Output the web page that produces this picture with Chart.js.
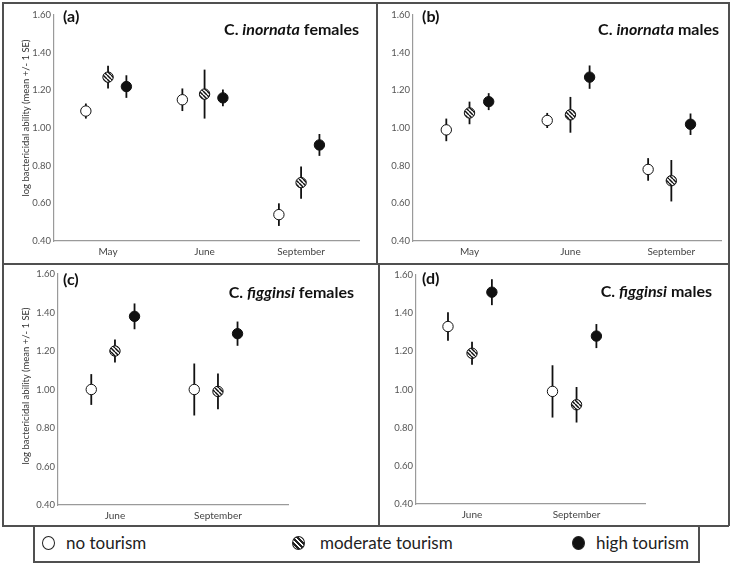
<!DOCTYPE html>
<html>
<head>
<meta charset="utf-8">
<script src="https://cdn.jsdelivr.net/npm/chart.js@4.4.1/dist/chart.umd.min.js"></script>
<style>
  body { margin: 0; background: #fff; font-family: Lato, "Open Sans", sans-serif; }
  #page { position: relative; width: 733px; height: 564px; overflow: hidden; }
  .line { position: absolute; background: #505050; }
  canvas { position: absolute; }
  .tag { position: absolute; font-weight: bold; font-size: 16px; line-height: 16px; color: #111; }
  .title { position: absolute; font-weight: bold; font-size: 16px; line-height: 16px; white-space: nowrap; color: #111; }
  .ytitle { position: absolute; font-size: 9.5px; color: #333; white-space: nowrap;
            transform: translate(-50%, -50%) rotate(-90deg); }
  .leg { position: absolute; font-size: 17px; line-height: 18px; color: #222; white-space: nowrap; }
  .ico { position: absolute; width: 13px; height: 14px; border: 1px solid #222; border-radius: 50%; box-sizing: border-box; }
</style>
</head>
<body>
<div id="page">
  <!-- frame -->
  <div class="line" style="left:2px;top:2px;width:727px;height:1.5px"></div>
  <div class="line" style="left:2px;top:2px;width:1.5px;height:524px"></div>
  <div class="line" style="left:728px;top:2px;width:1.5px;height:524px"></div>
  <div class="line" style="left:2px;top:263px;width:727px;height:1.5px"></div>
  <div class="line" style="left:2px;top:525px;width:727px;height:1.5px"></div>
  <div class="line" style="left:376px;top:2px;width:1.5px;height:262px"></div>
  <div class="line" style="left:378px;top:263px;width:1.5px;height:263px"></div>
  <!-- legend box -->
  <div class="line" style="left:33px;top:525px;width:1.5px;height:37px"></div>
  <div class="line" style="left:698px;top:525px;width:1.5px;height:37px"></div>
  <div class="line" style="left:33px;top:561px;width:667px;height:1.5px"></div>

  <canvas id="pa" width="373" height="260" style="left:3px;top:3px"></canvas>
  <canvas id="pb" width="351" height="260" style="left:377px;top:3px"></canvas>
  <canvas id="pc" width="375" height="261" style="left:3px;top:264px"></canvas>
  <canvas id="pd" width="349" height="261" style="left:379px;top:264px"></canvas>

  <div class="tag" style="left:63px;top:8px">(a)</div>
  <div class="tag" style="left:422px;top:8px">(b)</div>
  <div class="tag" style="left:63px;top:271px">(c)</div>
  <div class="tag" style="left:422px;top:270px">(d)</div>

  <div class="title" style="right:374px;top:21px">C. <i>inornata</i> females</div>
  <div class="title" style="right:14px;top:21px">C. <i>inornata</i> males</div>
  <div class="title" style="right:379px;top:284px">C. <i>figginsi</i> females</div>
  <div class="title" style="right:21px;top:283px">C. <i>figginsi</i> males</div>

  <div class="ytitle" style="left:25px;top:118px">log bactericidal ability (mean +/- 1 SE)</div>
  <div class="ytitle" style="left:25px;top:386px">log bactericidal ability (mean +/- 1 SE)</div>

  <div class="ico" style="left:42px;top:536px;background:#fff"></div>
  <div class="leg" style="left:66px;top:534px">no tourism</div>
  <div class="ico" style="left:292px;top:536px;background:repeating-linear-gradient(45deg,#222 0 1.7px,#fff 1.7px 3.5px)"></div>
  <div class="leg" style="left:320px;top:534px">moderate tourism</div>
  <div class="ico" style="left:572px;top:536px;background:#111"></div>
  <div class="leg" style="left:596px;top:534px">high tourism</div>
</div>
<script>
const topMonths = ['May', 'June', 'September'];
const bottomMonths = ['June', 'September'];
const yTicks = [0.4, 0.6, 0.8, 1.0, 1.2, 1.4, 1.6];

// (a) C. inornata females
const aNone = [1.09, 1.15, 0.54];
const aNoneSE = [0.04, 0.06, 0.06];
const aMod = [1.27, 1.18, 0.71];
const aModSE = [0.06, 0.13, 0.085];
const aHigh = [1.22, 1.16, 0.91];
const aHighSE = [0.06, 0.045, 0.058];

// (b) C. inornata males
const bNone = [0.99, 1.04, 0.78];
const bNoneSE = [0.06, 0.04, 0.06];
const bMod = [1.08, 1.07, 0.72];
const bModSE = [0.06, 0.095, 0.11];
const bHigh = [1.14, 1.27, 1.02];
const bHighSE = [0.045, 0.062, 0.057];

// (c) C. figginsi females
const cNone = [1.00, 1.00];
const cNoneSE = [0.08, 0.135];
const cMod = [1.20, 0.99];
const cModSE = [0.06, 0.093];
const cHigh = [1.38, 1.29];
const cHighSE = [0.067, 0.063];

// (d) C. figginsi males
const dNone = [1.33, 0.99];
const dNoneSE = [0.075, 0.137];
const dMod = [1.19, 0.92];
const dModSE = [0.06, 0.093];
const dHigh = [1.51, 1.28];
const dHighSE = [0.068, 0.063];

// little shift of each tourism group around the month position
const groupShift = [-0.23, 0, 0.19];

function hatch() {
  const c = document.createElement('canvas');
  c.width = 4; c.height = 4;
  const g = c.getContext('2d');
  g.fillStyle = '#fff';
  g.fillRect(0, 0, 4, 4);
  g.strokeStyle = '#111';
  g.lineWidth = 1.5;
  g.beginPath();
  for (let k = -1; k <= 1; k++) {
    g.moveTo(k * 4, 0);
    g.lineTo(k * 4 + 4, 4);
  }
  g.stroke();
  return g.createPattern(c, 'repeat');
}
const fills = ['#fff', hatch(), '#111'];

const errorBars = {
  id: 'errorBars',
  beforeDatasetsDraw(chart) {
    const ctx = chart.ctx, y = chart.scales.y;
    ctx.save();
    ctx.strokeStyle = '#111';
    ctx.lineWidth = 1.8;
    chart.data.datasets.forEach((ds, di) => {
      chart.getDatasetMeta(di).data.forEach((pt, i) => {
        const m = ds.data[i].y, e = ds.errors[i];
        ctx.beginPath();
        ctx.moveTo(pt.x, y.getPixelForValue(m + e));
        ctx.lineTo(pt.x, y.getPixelForValue(m - e));
        ctx.stroke();
      });
    });
    ctx.restore();
  }
};

function panel(id, months, means, errs, xMin, xMax, pad) {
  const datasets = means.map((vals, g) => ({
    data: vals.map((v, i) => ({ x: i + groupShift[g], y: v })),
    errors: errs[g],
    pointRadius: 5.2,
    pointBorderWidth: 1,
    pointBorderColor: '#111',
    pointBackgroundColor: fills[g],
    showLine: false
  }));
  const tickFont = { family: 'Lato', size: 9.5 };
  new Chart(document.getElementById(id), {
    type: 'scatter',
    data: { datasets },
    plugins: [errorBars],
    options: {
      responsive: false,
      animation: false,
      layout: { padding: pad },
      plugins: { legend: { display: false }, tooltip: { enabled: false } },
      scales: {
        x: {
          type: 'linear', min: xMin, max: xMax,
          grid: { display: false, drawTicks: false },
          border: { color: '#9a9a9a', width: 1.2 },
          ticks: { padding: 5, color: '#444', font: { family: 'Lato', size: 10 }, autoSkip: false, maxRotation: 0,
                   callback: v => months[v] ?? '' },
          afterBuildTicks: s => { s.ticks = months.map((m, i) => ({ value: i })); },
          afterFit: s => { s.height = 20; }
        },
        y: {
          min: 0.4, max: 1.6,
          grid: { display: false, drawTicks: false },
          border: { color: '#9a9a9a', width: 1.2 },
          ticks: { padding: 3, color: '#555', font: tickFont, callback: v => Number(v).toFixed(2) },
          afterBuildTicks: s => { s.ticks = yTicks.map(v => ({ value: v })); },
          afterFit: s => { s.width = 30; }
        }
      }
    }
  });
}

panel('pa', topMonths, [aNone, aMod, aHigh], [aNoneSE, aModSE, aHighSE], -0.56, 2.6,
      { left: 21, top: 12, right: 17, bottom: 2 });
panel('pb', topMonths, [bNone, bMod, bHigh], [bNoneSE, bModSE, bHighSE], -0.56, 2.5,
      { left: 6, top: 12, right: 4, bottom: 2 });
panel('pc', bottomMonths, [cNone, cMod, cHigh], [cNoneSE, cModSE, cHighSE], -0.553, 1.68,
      { left: 25, top: 10, right: 90, bottom: 0 });
panel('pd', bottomMonths, [dNone, dMod, dHigh], [dNoneSE, dModSE, dHighSE], -0.536, 1.655,
      { left: 7, top: 11, right: 83, bottom: 1 });
</script>
</body>
</html>
